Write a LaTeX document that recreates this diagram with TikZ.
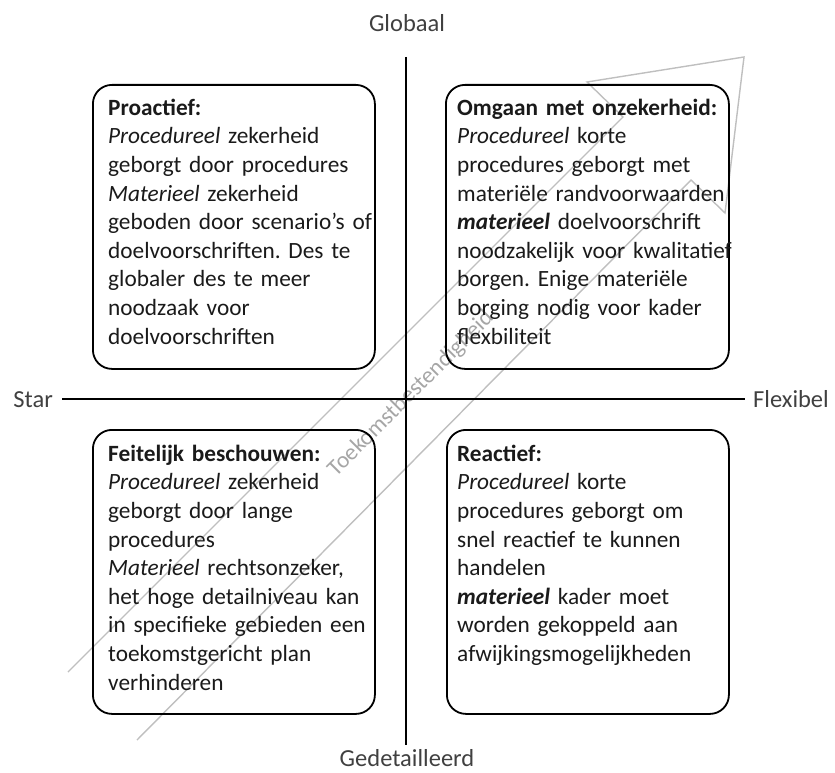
\documentclass[tikz,border=0pt]{standalone}
\usepackage{fontspec}
\setmainfont{Carlito}
\frenchspacing
\definecolor{textcol}{HTML}{1A1A1A}
\definecolor{lblcol}{HTML}{404040}
\definecolor{arrowgray}{HTML}{BFBFBF}
\definecolor{arrowtext}{HTML}{A6A6A6}
\begin{document}
\begin{tikzpicture}[x=1pt,y=-1pt,
  quad/.style={draw=black, line width=1.8pt, rounded corners=19pt, inner sep=0pt,
               minimum width=282pt, minimum height=284pt, anchor=north west},
  boxtext/.style={anchor=north west, inner sep=0pt, text width=300pt, align=left,
               font=\fontsize{23.3}{28.6}\selectfont\frenchspacing, text=textcol},
  axislbl/.style={font=\fontsize{24.5}{29}\selectfont, text=lblcol, inner sep=0pt},
  axisline/.style={line width=1.8pt, draw=black},
  arrowline/.style={draw=arrowgray, line width=1.4pt, line join=miter}]
\useasboundingbox (0,0) rectangle (835,773);

% future-proof arrow (outline)
\coordinate (a1) at (68,672);
\coordinate (a2) at (623,117);
\coordinate (a3) at (587,82);
\coordinate (tip) at (744,57);
\coordinate (a5) at (725,213);
\coordinate (a6) at (691,180);
\coordinate (a7) at (137,740);
\draw[arrowline] (a1) -- (a2) -- (a3) -- (tip) -- (a5) -- (a6) -- (a7);
\node[rotate=45, text=arrowtext, font=\fontsize{23.2}{28}\selectfont, inner sep=0pt]
  (future) at (411,394) {Toekomstbestendigheid};

% axes
\coordinate (vtop) at (406,57);
\coordinate (vbot) at (406,745);
\coordinate (hleft) at (62,399);
\coordinate (hright) at (745,399);
\draw[axisline] (vtop) -- (vbot);
\draw[axisline] (hleft) -- (hright);

\node[axislbl, anchor=base] (glob) at (407,32) {Globaal};
\node[axislbl, anchor=base] (gedet) at (407,766) {Gedetailleerd};
\node[axislbl, anchor=base east] (star) at (53,407) {Star};
\node[axislbl, anchor=base west] (flex) at (753,407) {Flexibel};

% quadrant boxes
\node[quad] (tl) at (92,84) {};
\node[quad, minimum width=283pt] (tr) at (445,84) {};
\node[quad] (bl) at (92,429) {};
\node[quad] (br) at (446,429) {};

\node[boxtext] (tltext) at (108,95) {\strut\textbf{Proactief:}\\
\textit{Procedureel} zekerheid\\
geborgt door procedures\\
\textit{Materieel} zekerheid\\
geboden door scenario’s of\\
doelvoorschriften. Des te\\
globaler des te meer\\
noodzaak voor\\
doelvoorschriften};

\node[boxtext] (trtext) at (457,95) {\strut\textbf{Omgaan met onzekerheid:}\\
\textit{Procedureel} korte\\
procedures geborgt met\\
materiële randvoorwaarden\\
\textbf{\textit{materieel}} doelvoorschrift\\
noodzakelijk voor kwalitatief\\
borgen. Enige materiële\\
borging nodig voor kader\\
flexbiliteit};

\node[boxtext] (bltext) at (108,441) {\strut\textbf{Feitelijk beschouwen:}\\
\textit{Procedureel} zekerheid\\
geborgt door lange\\
procedures\\
\textit{Materieel} rechtsonzeker,\\
het hoge detailniveau kan\\
in specifieke gebieden een\\
toekomstgericht plan\\
verhinderen};

\node[boxtext] (brtext) at (457,441) {\strut\textbf{Reactief:}\\
\textit{Procedureel} korte\\
procedures geborgt om\\
snel reactief te kunnen\\
handelen\\
\textbf{\textit{materieel}} kader moet\\
worden gekoppeld aan\\
afwijkingsmogelijkheden};
\end{tikzpicture}
\end{document}
